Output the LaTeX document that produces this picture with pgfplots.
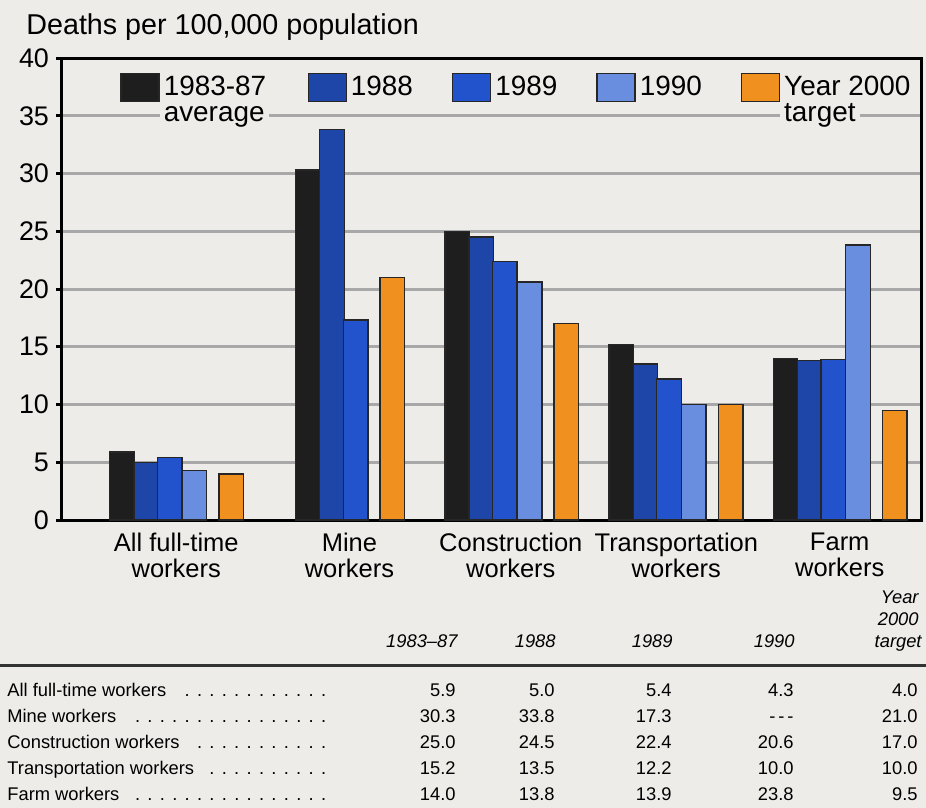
\documentclass[border=0pt]{standalone}
\usepackage{fontspec}
\setmainfont{Liberation Sans}
\usepackage{pgfplots}
\usepackage{pgfplotstable}
\pgfplotsset{compat=1.18}

\definecolor{paper}{HTML}{EEECE9}
\definecolor{avg}{HTML}{1E1E1E}
\definecolor{y88}{HTML}{1E46A8}
\definecolor{y89}{HTML}{2253CC}
\definecolor{y90}{HTML}{6A8EDF}
\definecolor{goal}{HTML}{F0901E}
\definecolor{gridc}{HTML}{A8A8A8}

% x = position of each group (mine workers sits a little apart: no 1990 bar)
\pgfplotstableread{
x    avg  y88  y89  y90  goal
0    5.9  5.0  5.4  4.3  4.0
1.12 30.3 33.8 17.3 nan  nan
2.02 25.0 24.5 22.4 20.6 17.0
3.01 15.2 13.5 12.2 10.0 10.0
4    14.0 13.8 13.9 23.8 9.5
}\rates

% legend entry on two lines; only the first line counts for alignment
\newcommand\legtwo[2]{\setbox0=\vtop{\baselineskip=13bp\hbox{#1}\hbox{\hspace{-2bp}\fboxsep=2bp\colorbox{paper}{#2}}}\dp0=0pt\box0}

\newcommand\dotlead{\leaders\hbox to 6.2bp{\hss.\hss}\hfill}
\newcommand\tabrow[7]{%
  \node[anchor=base west] at (7,#7) {\hbox to 164bp{#1\ \dotlead}};
  \node[anchor=base east] at (456,#7) {#2};
  \node[anchor=base east] at (555,#7) {#3};
  \node[anchor=base east] at (672,#7) {#4};
  \node[anchor=base east] at (794,#7) {#5};
  \node[anchor=base east] at (918,#7) {#6};
}

\begin{document}
\begin{tikzpicture}
\useasboundingbox[fill=paper] (-31bp,-144bp) rectangle (432bp,260bp);

\begin{axis}[
  at={(0,0)}, anchor=south west,
  scale only axis, width=429.5bp, height=231bp,
  xmin=-0.689, xmax=4.49, ymin=0, ymax=40,
  ybar, bar width=0.148,
  ytick={0,5,...,40}, ytick pos=left,
  xtick={0,1.044,2.017,3.015,4},
  xticklabels={All full-time\\workers, Mine\\workers, Construction\\workers, Transportation\\workers, Farm\\workers},
  xticklabel style={align=center, font=\fontsize{12.8}{12.8}\selectfont},
  yticklabel style={font=\fontsize{13.5}{14}\selectfont},
  x tick style={draw=none},
  y tick style={line width=1.5bp, black},
  tick align=outside, major tick length=3bp,
  ymajorgrids, grid style={line width=1.5bp, gridc},
  axis line style={line width=1.5bp, black},
  /pgf/number format/assume math mode=true,
  every axis plot/.append style={draw=black!85, line width=0.7bp},
  legend columns=5, legend cell align=left,
  legend image code/.code={\draw[#1] (0bp,-7bp) rectangle (19bp,7bp);},
  legend style={at={(rel axis cs:0,1)}, anchor=north west,
    xshift=26bp, yshift=-5bp, draw=none, fill=none,
    font=\fontsize{14}{12.5}\selectfont,
    cells={fill=paper},
    /tikz/every even column/.append style={column sep=17.5bp}},
]
\addplot[fill=avg, bar shift=-0.327] table[x=x, y=avg] {\rates};
\addplot[fill=y88, bar shift=-0.181] table[x=x, y=y88] {\rates};
\addplot[fill=y89, bar shift=-0.039] table[x=x, y=y89] {\rates};
\addplot[fill=y90, bar shift=0.110] table[x=x, y=y90] {\rates};
\addplot[fill=goal, bar shift=0.332] table[x=x, y=goal] {\rates};
\addplot[fill=goal, bar shift=0.183, forget plot] coordinates {(1.12,21.0)};
\addlegendentry{\legtwo{1983-87}{average}}
\addlegendentry{1988}
\addlegendentry{1989}
\addlegendentry{1990}
\addlegendentry{\legtwo{Year 2000}{target}}
\end{axis}

\begin{scope}[x=0.5bp, y=-0.5bp, shift={(-31bp,260bp)}, inner sep=0pt]
\node[anchor=base west, font=\fontsize{14.4}{16}\selectfont] at (26,35) {Deaths per 100,000 population};
\begin{scope}[font=\fontsize{9.2}{11}\selectfont\itshape]
\node[anchor=base east] at (458,648) {1983--87};
\node[anchor=base east] at (556,648) {1988};
\node[anchor=base east] at (673,648) {1989};
\node[anchor=base east] at (795,648) {1990};
\node[anchor=base east] at (919,604) {Year};
\node[anchor=base east] at (919,626) {2000};
\node[anchor=base east] at (922,648) {target};
\end{scope}
\draw[line width=1.5bp, black!80] (0,666) -- (926,666);
\begin{scope}[font=\fontsize{9.2}{11}\selectfont]
\tabrow{All full-time workers}{5.9}{5.0}{5.4}{4.3}{4.0}{697}
\tabrow{Mine workers}{30.3}{33.8}{17.3}{{-}\kern1.5bp{-}\kern1.5bp{-}}{21.0}{723}
\tabrow{Construction workers}{25.0}{24.5}{22.4}{20.6}{17.0}{749}
\tabrow{Transportation workers}{15.2}{13.5}{12.2}{10.0}{10.0}{775}
\tabrow{Farm workers}{14.0}{13.8}{13.9}{23.8}{9.5}{801}
\end{scope}
\end{scope}
\end{tikzpicture}
\end{document}
